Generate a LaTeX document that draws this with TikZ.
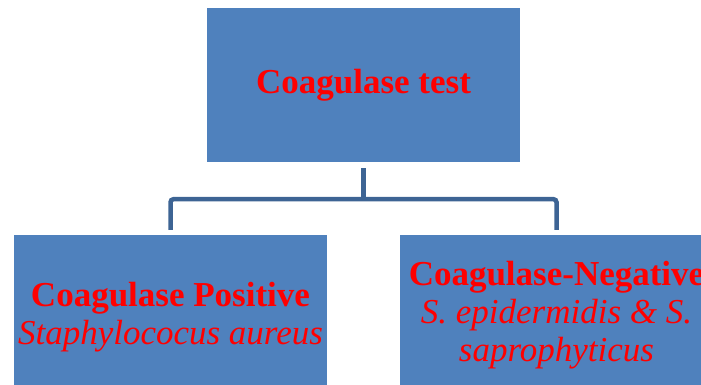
\documentclass[tikz,border=0pt]{standalone}
\usepackage{fontspec}
\setmainfont{Liberation Serif}
\usetikzlibrary{positioning}
\definecolor{boxblue}{HTML}{4F81BD}
\definecolor{lineblue}{HTML}{3D6494}
\definecolor{textred}{HTML}{FF0000}
\tikzset{
    testbox/.style={fill=boxblue, minimum width=313pt, minimum height=154pt, inner sep=0pt,
        align=center, text=textred, font=\fontsize{35}{38}\selectfont},
    link/.style={draw=lineblue, line width=4.5pt, rounded corners=3pt}
}

\begin{document}
\begin{tikzpicture}
    \useasboundingbox (0,0) rectangle (701pt,385pt);
    \clip (0,0) rectangle (701pt,385pt);

    % Test and its two outcomes
    \node[testbox] (test) at (363.5pt,300pt) {\raisebox{-4pt}{\textbf{Coagulase test}}};
    \node[testbox, minimum height=165pt] (pos) at (170.5pt,67.5pt)
        {\textbf{Coagulase Positive}\\\textit{Staphylococus aureus}};
    \node[testbox, minimum height=160pt] (neg) at (556.5pt,70pt)
        {\textbf{Coagulase-Negative}\\\textit{S. epidermidis \& S.}\\\textit{saprophyticus}};

    % Connector
    \coordinate (split) at ([yshift=-37pt]test.south);
    \draw[link] ([yshift=-6pt]test.south) -- (split);
    \draw[link] ([yshift=5pt]pos.north) |- (split) -| ([yshift=5pt]neg.north);
\end{tikzpicture}
\end{document}
